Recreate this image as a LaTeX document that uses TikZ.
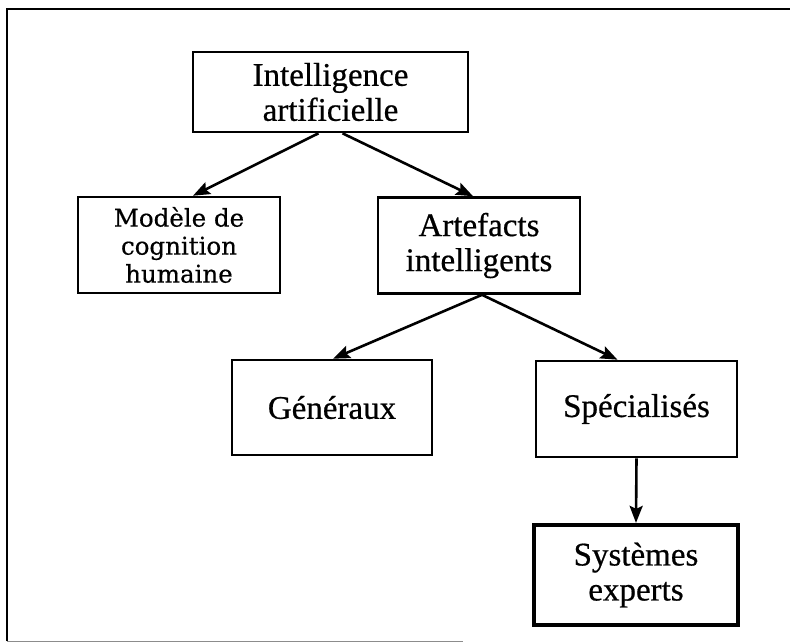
\documentclass[tikz,border=0pt]{standalone}
\usepackage{fontspec}
\setmainfont{Liberation Serif}[FakeBold=0.6]
\newfontfamily\schoolfont{DejaVu Serif}[FakeBold=0.5]
\usetikzlibrary{arrows.meta}

\tikzset{
  box/.style={draw=black, line width=2.6pt, rectangle, inner sep=0pt,
    align=center, font=\fontsize{33}{35}\selectfont},
  boldbox/.style={box, line width=4.2pt},
  arr/.style={line width=2.6pt,
    -{Stealth[length=17pt, width=13pt, inset=3pt]}},
  frame/.style={line width=2.4pt}
}

\begin{document}
\begin{tikzpicture}[x=1pt, y=-1pt]
  \useasboundingbox (0,0) rectangle (790,643);

  % outer frame (open on the right)
  \draw[frame] (7,641) -- (7,9) -- (790,9);
  \draw[black!45, line width=1pt] (7,641) -- (463,641);

  % boxes
  \node[box, minimum width=275pt, minimum height=80pt] (ia) at (330.5,92)
    {Intelligence\\artificielle};
  \node[box, minimum width=202pt, minimum height=96pt,
        font=\schoolfont\fontsize{24.5}{28}\selectfont] (mod) at (179,245)
    {Modèle de\\cognition\\humaine};
  \node[box, minimum width=202pt, minimum height=96pt] (art) at (479,245.5)
    {Artefacts\\intelligents};
  \node[box, minimum width=200pt, minimum height=95pt] (gen) at (332,407.5)
    {Généraux};
  \node[box, minimum width=201pt, minimum height=96pt] (spec) at (636.5,409)
    {Spécialisés};
  \node[boldbox, minimum width=204pt, minimum height=100pt] (syst) at (636,575)
    {Systèmes\\experts};

  % connectors
  \draw[arr] ([xshift=-12pt]ia.south) -- ([xshift=14pt]mod.north);
  \draw[arr] ([xshift=12pt]ia.south) -- ([xshift=-6pt]art.north);
  \draw[arr] ([xshift=3pt]art.south) -- ([xshift=1pt]gen.north);
  \draw[arr] ([xshift=3pt]art.south) -- ([xshift=-19pt]spec.north);
  \draw[arr] (spec.south) -- (syst.north);
\end{tikzpicture}
\end{document}
